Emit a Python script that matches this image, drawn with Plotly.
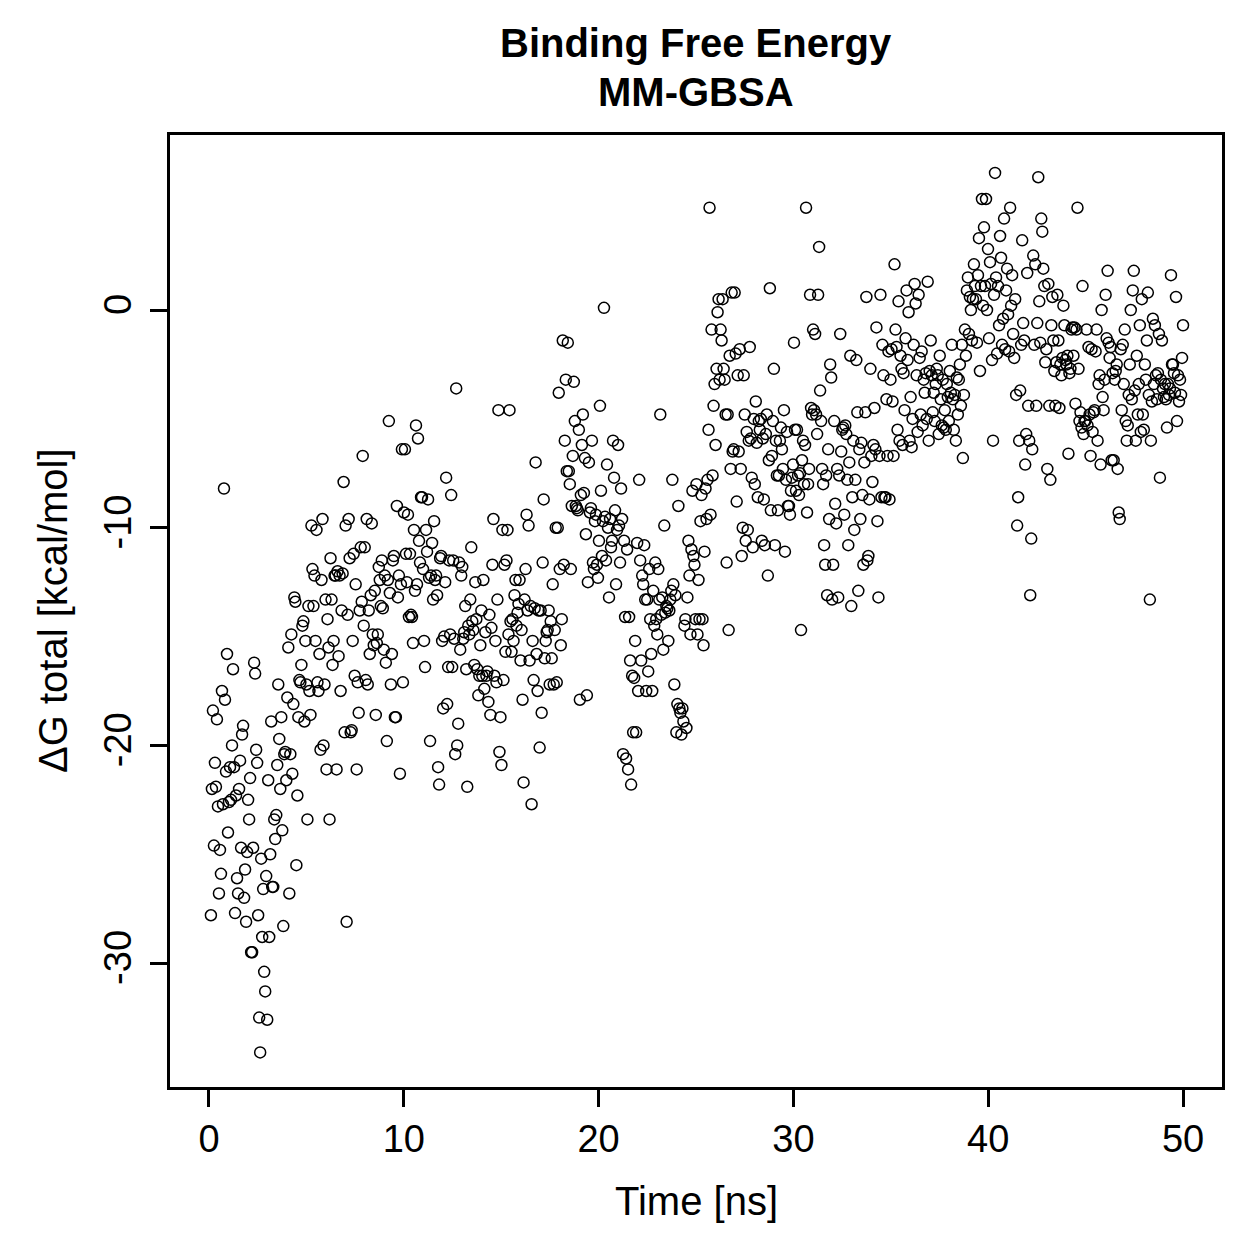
import numpy as np
import plotly.graph_objects as go

# Delta G total (kcal/mol), sampled evenly over the 50 ns trajectory
dg_total = [
    -27.8,-22.0,-18.4,-24.6,-20.8,-21.9,-18.8,-22.8,-26.8,-24.8,-25.9,-17.5,-22.7,-8.2,-17.9,-21.2,-15.8,-24.0,-22.6,-21.0,
    -22.5,-20.0,-16.5,-21.0,-27.7,-22.3,-26.1,-26.8,-22.0,-20.7,-24.7,-19.5,-19.1,-27.0,-25.7,-28.1,-24.9,-22.5,-23.4,-21.5,
    -29.5,-29.5,-24.7,-16.2,-16.7,-20.2,-20.8,-27.8,-32.5,-34.1,-25.2,-28.8,-26.6,-30.4,-31.3,-26.0,-32.6,-21.6,-28.8,-25.0,
    -18.9,-26.5,-26.5,-23.4,-24.3,-23.2,-20.9,-17.2,-19.7,-22.0,-18.7,-23.9,-28.3,-20.4,-20.3,-21.6,-17.8,-15.5,-26.8,-20.4,
    -14.9,-21.3,-18.1,-13.2,-13.4,-25.5,-22.3,-18.7,-17.0,-17.1,-16.3,-14.5,-14.3,-18.9,-15.2,-17.2,-23.4,-13.6,-17.5,-18.6,
    -9.9,-11.9,-13.6,-12.2,-15.2,-10.1,-17.1,-17.5,-15.8,-20.2,-12.4,-9.6,-20.0,-17.2,-13.3,-21.1,-14.2,-15.5,-23.4,-11.4,
    -13.3,-16.3,-15.2,-12.2,-12.2,-21.1,-12.0,-15.9,-12.2,-17.5,-13.8,-12.1,-7.9,-19.4,-9.9,-28.1,-14.0,-9.6,-11.4,-19.4,
    -19.3,-15.2,-11.2,-16.8,-12.6,-21.1,-17.1,-18.5,-13.8,-10.9,-13.4,-6.7,-14.5,-10.9,-17.0,-9.6,-17.2,-13.8,-15.8,-13.1,
    -9.8,-14.9,-15.4,-12.9,-18.6,-15.3,-14.9,-11.8,-12.4,-13.6,-11.5,-13.7,-15.6,-12.2,-16.2,-19.8,-12.4,-5.1,-13.0,-17.2,
    -15.8,-11.5,-11.3,-18.7,-18.7,-9.0,-13.2,-12.2,-21.3,-12.6,-6.4,-17.1,-9.3,-6.4,-11.2,-12.5,-9.4,-14.1,-11.2,-14.0,
    -14.1,-15.3,-10.1,-12.9,-5.3,-12.6,-5.9,-10.6,-11.6,-8.6,-8.6,-11.9,-15.2,-16.4,-10.1,-11.1,-8.7,-12.3,-19.8,-12.2,
    -10.7,-13.3,-9.7,-12.4,-12.2,-13.1,-21.0,-21.8,-11.4,-11.3,-15.2,-18.3,-15.0,-12.5,-7.7,-18.1,-16.4,-11.5,-14.9,-8.5,
    -16.4,-11.5,-15.1,-20.4,-3.6,-20.0,-19.0,-11.6,-15.6,-12.2,-11.8,-15.1,-14.8,-13.6,-16.5,-21.9,-14.5,-14.9,-13.3,-10.9,
    -14.3,-14.7,-16.3,-12.5,-14.2,-16.5,-17.7,-16.8,-15.4,-13.8,-16.8,-12.4,-17.4,-14.8,-16.8,-16.6,-18.0,-14.0,-18.6,-14.6,
    -11.7,-9.6,-16.8,-15.2,-17.1,-13.3,-4.6,-20.3,-18.7,-20.9,-10.1,-17.0,-11.7,-15.7,-11.5,-10.1,-14.9,-4.6,-14.3,-15.7,
    -14.2,-15.2,-13.1,-12.4,-14.5,-13.9,-13.5,-12.4,-16.1,-14.7,-17.9,-21.7,-13.3,-11.9,-9.4,-13.8,-9.9,-16.1,-13.6,-22.7,
    -15.2,-17.0,-13.7,-7.0,-15.8,-17.5,-13.8,-20.1,-13.8,-18.5,-11.6,-8.7,-16.0,-15.2,-14.8,-14.7,-13.8,-17.2,-14.3,-16.0,
    -12.6,-17.2,-14.7,-10.0,-17.1,-10.0,-3.8,-11.9,-15.4,-14.2,-1.4,-11.7,-6.0,-3.2,-7.4,-1.5,-7.4,-8.0,-11.9,-9.0,
    -6.7,-3.3,-5.1,-9.0,-9.1,-9.2,-5.5,-17.9,-8.5,-6.2,-4.8,-8.4,-6.8,-10.3,-17.7,-12.5,-7.0,-9.3,-9.1,-6.0,
    -11.6,-11.9,-9.7,-9.4,-11.7,-12.3,-10.6,-4.4,-8.3,-11.3,-9.7,0.1,-9.5,-11.5,-7.1,-10.0,-13.2,-9.6,-10.9,-10.6,
    -6.0,-7.7,-9.2,-12.6,-10.1,-6.2,-9.9,-11.6,-8.2,-9.6,-20.4,-10.6,-14.1,-20.6,-11.0,-21.1,-14.1,-16.1,-21.8,-16.8,
    -19.4,-16.9,-15.2,-19.4,-10.7,-17.5,-7.8,-11.5,-16.1,-12.2,-12.6,-10.8,-13.3,-17.5,-13.3,-16.6,-11.9,-14.2,-15.8,-17.5,
    -12.9,-14.5,-11.6,-14.2,-14.9,-11.9,-13.3,-4.8,-14.0,-13.2,-15.6,-9.9,-13.9,-13.6,-13.7,-15.2,-13.8,-13.3,-12.9,-7.8,
    -12.6,-17.2,-13.1,-19.4,-18.1,-9.0,-18.3,-18.5,-19.5,-18.3,-18.9,-14.5,-14.2,-19.2,-13.2,-10.6,-12.2,-14.9,-11.0,-8.3,
    -11.3,-11.7,-14.2,-8.0,-14.9,-12.4,-14.2,-9.7,-8.5,-14.2,-15.4,-11.1,-8.2,-9.6,-7.8,-5.5,4.7,-9.4,-0.9,-7.6,
    -4.4,-3.4,-6.2,-2.7,-0.1,0.5,-3.2,-0.9,-1.4,0.5,-2.7,-3.2,-4.8,-11.6,-4.8,-14.7,-2.1,-7.3,0.8,-6.5,
    -6.4,0.8,-2.0,-8.8,-3.0,-6.5,-1.8,-7.3,-11.3,-10.0,-3.0,-4.8,-10.6,-5.6,-10.1,-6.0,-1.7,-5.9,-7.7,-10.9,
    -5.0,-8.0,-4.2,-6.1,-8.6,-5.1,-5.5,-5.0,-10.6,-5.9,-8.7,-10.8,-5.7,-4.8,-12.2,-6.9,1.0,-9.2,-6.7,-5.1,
    -2.7,-10.8,-6.0,-7.6,-9.2,-7.6,-6.0,-5.4,-6.4,-7.3,-4.6,-11.1,-7.8,-5.6,-9.0,-9.0,-9.4,-8.3,-7.7,-7.1,
    -1.5,-5.5,-8.3,-5.5,-7.6,-8.5,-7.5,-14.7,-6.9,-6.0,-8.0,-6.2,4.7,-9.3,-8.0,-7.3,0.7,-4.5,-4.8,-0.9,
    -4.6,-1.1,-4.8,-5.7,0.7,2.9,-3.7,-5.1,-7.3,-8.0,-10.8,-11.7,-7.6,-13.1,-6.4,-9.6,-2.5,-3.1,-13.3,-11.7,
    -5.1,-8.9,-9.8,-7.3,-13.2,-7.6,-1.1,-6.5,-5.5,-5.4,-9.4,-5.3,-5.7,-7.8,-10.8,-7.0,-2.1,-13.6,-8.6,-6.0,
    -10.1,-7.8,-2.3,-4.7,-12.9,-6.4,-9.6,-6.1,-8.5,-11.7,-7.0,-4.7,0.6,-11.5,-11.3,-8.7,-2.7,-6.7,-7.9,-6.2,
    -4.5,-6.4,-0.8,-9.7,-13.2,-6.7,0.7,-8.6,-1.6,-3.0,-8.6,-8.6,-4.1,-6.7,-1.9,-8.7,-3.2,-1.8,-4.2,-6.7,
    2.1,-0.9,-1.7,-5.5,0.4,-6.0,-2.1,-2.7,-6.2,-2.9,-4.6,-1.3,0.9,-2.3,-0.1,-6.0,-4.0,-6.3,-5.0,-1.6,
    1.2,0.3,-3.0,-5.6,0.7,-2.2,-4.8,-1.9,-5.3,-3.2,-3.8,-2.9,-5.0,1.3,-6.0,-2.8,-1.4,-3.0,-4.7,-3.8,
    -5.1,-3.4,-2.7,-3.0,-5.7,-2.1,-4.1,-5.3,-3.2,-5.4,-4.6,-5.5,-3.4,-4.0,-5.1,-2.8,-3.8,-1.6,-4.1,-5.5,
    -3.9,-6.0,-3.1,-4.8,-3.2,-2.5,-4.4,-1.6,-6.8,-3.9,-0.9,-2.1,0.9,1.5,-1.1,0.6,0.0,-1.4,0.5,2.1,
    1.1,0.5,-1.5,1.6,3.3,-2.8,1.1,5.1,0.2,3.8,1.1,5.1,0.0,2.8,-1.3,2.2,1.2,-2.3,-6.0,0.7,
    6.3,1.5,-2.0,1.1,-0.7,3.4,2.4,-1.6,-0.4,4.2,-1.8,0.9,1.9,-0.2,-1.9,4.7,0.2,1.6,-1.1,-2.2,
    0.5,-3.9,-9.9,-8.6,-6.0,-3.7,-1.6,3.2,-0.6,-1.4,-7.1,-5.7,1.7,-4.4,-6.0,-13.1,-10.5,-6.4,2.5,-1.6,
    2.1,-4.4,-0.6,6.1,0.4,-1.5,4.2,3.6,1.9,1.1,-2.4,-1.8,-7.3,1.2,-4.4,-7.8,-0.7,0.6,-1.4,-2.8,
    -4.4,-2.4,0.7,-1.4,-4.5,-2.5,-3.0,-2.2,0.2,-0.7,-2.3,-2.5,-2.1,-6.6,-2.9,-2.7,-0.9,-0.8,-2.1,-0.8,
    -4.3,-0.9,4.7,-2.7,-5.1,-4.7,-5.4,1.1,-5.7,-5.1,-5.1,-0.9,-5.3,-1.7,-4.8,-6.7,-1.8,-5.6,-4.7,-4.6,
    -1.9,-0.9,-6.0,-3.4,-3.0,-7.1,0.0,-4.0,-4.6,-3.2,0.7,-1.3,1.8,-1.5,-2.2,-1.7,-6.9,-2.9,-6.9,-3.2,
    -2.8,-2.5,-7.3,-9.3,-9.6,-1.8,-4.6,-1.6,-3.4,-0.9,-5.1,-6.0,-5.3,-3.9,-2.5,0.0,-4.1,0.9,1.8,-3.7,
    -6.0,-2.1,-4.8,-3.4,-0.7,-5.6,0.5,-4.8,-5.5,-2.5,-3.2,-1.4,0.8,-3.9,-13.3,-6.0,-4.2,-0.4,-3.4,-0.7,
    -3.0,-4.1,-2.9,-1.1,-7.7,-3.2,-1.4,-3.6,-4.0,-3.4,-4.1,-5.4,-3.4,-3.9,-3.6,1.6,-2.5,-2.5,-2.9,-3.8,
    0.6,-5.1,-3.0,-4.2,-3.2,-3.9,-2.2,-0.7,
]

# frames are evenly spaced in time from the first to the last snapshot
time_start_ns = 0.1
time_end_ns = 50.0
time_ns = np.linspace(time_start_ns, time_end_ns, len(dg_total))

x_ticks = [0, 10, 20, 30, 40, 50]
y_ticks = [-30, -20, -10, 0]
y_tick_labels = ["-30", "-20", "-10", "0"]

title_lines = ["Binding Free Energy", "MM-GBSA"]
x_title = "Time [ns]"
y_title = "ΔG total [kcal/mol]"

FONT = "Liberation Sans, Arial, Helvetica, sans-serif"
TICK_SIZE = 38
LABEL_SIZE = 40

fig = go.Figure()
fig.add_trace(go.Scatter(
    x=time_ns, y=dg_total, mode="markers",
    marker=dict(symbol="circle-open", size=11, color="black",
                line=dict(color="black", width=1.5)),
    showlegend=False, hoverinfo="x+y",
))

L, R, T, B = 170, 37, 135, 172
fig.update_layout(
    width=1259, height=1259,
    margin=dict(l=L, r=R, t=T, b=B, pad=0),
    paper_bgcolor="white", plot_bgcolor="white",
    font=dict(family=FONT, size=TICK_SIZE, color="black"),
    showlegend=False,
)
fig.update_xaxes(
    range=[-2, 52], tickvals=x_ticks, ticks="outside", ticklen=17, tickwidth=2.5,
    tickcolor="black", showgrid=False, zeroline=False, showline=True,
    linecolor="black", linewidth=2.5, mirror=True, ticklabelstandoff=0,
    tickfont=dict(family=FONT, size=TICK_SIZE, color="black"),
)
fig.update_yaxes(
    range=[-35.69, 8.04], tickvals=y_ticks, ticktext=y_tick_labels,
    ticks="outside", ticklen=17, tickwidth=2.5, tickangle=-90,
    tickcolor="black", showgrid=False, zeroline=False, showline=True,
    linecolor="black", linewidth=2.5, mirror=True, ticklabelstandoff=4,
    tickfont=dict(family=FONT, size=TICK_SIZE, color="black"),
)

plot_h = 1259 - T - B
plot_w = 1259 - L - R
def py(pix):
    return (1259 - B - pix) / plot_h
def px(pix):
    return (pix - L) / plot_w

fig.add_annotation(text="<b>" + title_lines[0] + "</b>", xref="paper", yref="paper",
                   x=0.5, y=py(43), xanchor="center", yanchor="middle", showarrow=False,
                   font=dict(family=FONT, size=LABEL_SIZE, color="black"))
fig.add_annotation(text="<b>" + title_lines[1] + "</b>", xref="paper", yref="paper",
                   x=0.5, y=py(92), xanchor="center", yanchor="middle", showarrow=False,
                   font=dict(family=FONT, size=LABEL_SIZE, color="black"))
fig.add_annotation(text=x_title, xref="paper", yref="paper",
                   x=0.5, y=py(1201), xanchor="center", yanchor="middle", showarrow=False,
                   font=dict(family=FONT, size=LABEL_SIZE, color="black"))
fig.add_annotation(text=y_title, xref="paper", yref="paper", textangle=-90,
                   x=px(53), y=0.5, xanchor="center", yanchor="middle", showarrow=False,
                   font=dict(family=FONT, size=LABEL_SIZE, color="black"))

fig.write_html("out.html")
